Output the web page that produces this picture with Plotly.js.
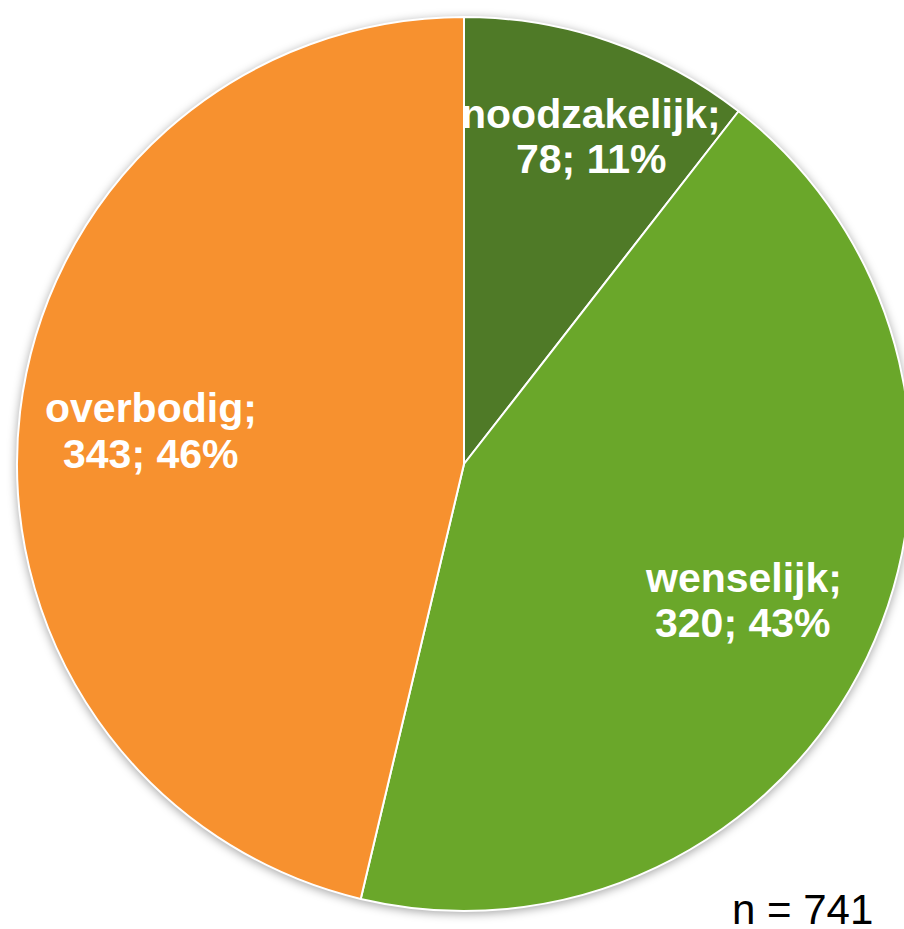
<!DOCTYPE html>
<html>
<head>
<meta charset="utf-8">
<script src="https://cdn.plot.ly/plotly-3.0.1.min.js"></script>
<style>
  html, body { margin: 0; padding: 0; background: #ffffff; overflow: hidden; width: 904px; height: 929px; }
  #chart { width: 928px; height: 929px; }
  #chart .pielayer { filter: drop-shadow(0px 2px 5px rgba(0,0,0,0.35)); }
</style>
</head>
<body>
<div id="chart"></div>
<script>
// Data
const categories = ["noodzakelijk", "wenselijk", "overbodig"];
const counts = [78, 320, 343];
const percents = ["11%", "43%", "46%"];
const sampleNote = "n = 741";

// Styling
const colors = ["#4F7A27", "#6AA72A", "#F7912F"];
const W = 928, H = 929;
const M = { l: 17, r: 17, t: 17, b: 18 };
const plotW = W - M.l - M.r, plotH = H - M.t - M.b;
// label block centres in page pixels (styling)
const labelPx = [[591, 137], [743, 600], [151, 431]];
const lineGap = 45;
const labelSize = 41;
const notePx = [802, 909];

function toPaper(px, py) {
  return { x: (px - M.l) / plotW, y: 1 - (py - M.t) / plotH };
}

const annotations = [];
categories.forEach((c, i) => {
  const lines = [c + ";", counts[i] + "; " + percents[i]];
  lines.forEach((t, j) => {
    const p = toPaper(labelPx[i][0], labelPx[i][1] + (j - 0.5) * lineGap);
    annotations.push({
      xref: "paper", yref: "paper", x: p.x, y: p.y,
      xanchor: "center", yanchor: "middle", showarrow: false,
      text: "<b>" + t + "</b>",
      font: { family: "Liberation Sans, Arial, sans-serif", size: labelSize, color: "#ffffff" }
    });
  });
});
const np = toPaper(notePx[0], notePx[1]);
annotations.push({
  xref: "paper", yref: "paper", x: np.x, y: np.y,
  xanchor: "center", yanchor: "middle", showarrow: false,
  text: sampleNote,
  font: { family: "Liberation Sans, Arial, sans-serif", size: 42, color: "#000000" }
});

const trace = {
  type: "pie",
  labels: categories,
  values: counts,
  sort: false,
  direction: "clockwise",
  rotation: 0,
  marker: { colors: colors, line: { color: "#ffffff", width: 2 } },
  textinfo: "none",
  hoverinfo: "skip",
  showlegend: false,
  domain: { x: [0, 1], y: [0, 1] }
};

const layout = {
  width: W, height: H,
  margin: M,
  paper_bgcolor: "rgba(0,0,0,0)",
  plot_bgcolor: "rgba(0,0,0,0)",
  showlegend: false,
  annotations: annotations
};

Plotly.newPlot("chart", [trace], layout, { displayModeBar: false, staticPlot: true });
</script>
</body>
</html>
